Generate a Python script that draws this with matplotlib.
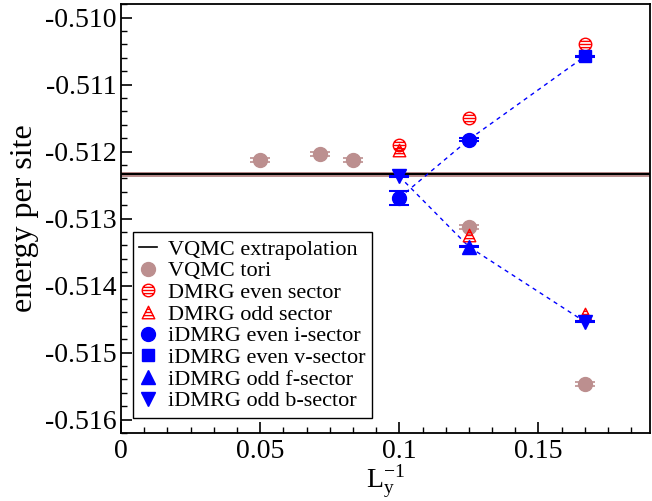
import numpy as np
import matplotlib
matplotlib.use('Agg')
import matplotlib.pyplot as plt
from matplotlib.path import Path
from matplotlib.lines import Line2D
from matplotlib.ticker import MultipleLocator, AutoMinorLocator, FormatStrFormatter

plt.rcParams['font.family'] = ['Liberation Serif', 'DejaVu Serif']
plt.rcParams['mathtext.fontset'] = 'stix'
plt.rcParams['axes.unicode_minus'] = False

# data
vqmc_extrap = -0.51234
vqmc_extrap_err = 0.00004

tori_x = [1/20, 1/14, 1/12, 1/8, 1/6]
tori_y = [-0.51213, -0.51203, -0.51213, -0.51312, -0.51547]
tori_err = [0.00003, 0.00003, 0.00003, 0.00003, 0.00003]

dmrg_even_x = [1/10, 1/8, 1/6]
dmrg_even_y = [-0.51190, -0.51150, -0.51040]
dmrg_odd_x = [1/10, 1/8, 1/6]
dmrg_odd_y = [-0.51197, -0.51325, -0.51442]

idmrg_i_x = [1/10, 1/8]
idmrg_i_y = [-0.51269, -0.51182]
idmrg_i_err = [0.0001, 0.00002]
idmrg_v_x = [1/6]
idmrg_v_y = [-0.51058]
idmrg_f_x = [1/8]
idmrg_f_y = [-0.51342]
idmrg_b_x = [1/10, 1/6]
idmrg_b_y = [-0.51237, -0.51454]

# dashed guides through the iDMRG points
even_line_x = [1/10, 1/8, 1/6]
even_line_y = [-0.51269, -0.51182, -0.51058]
odd_line_x = [1/10, 1/8, 1/6]
odd_line_y = [-0.51237, -0.51342, -0.51454]


def striped(base, is_circle):
    # open marker with horizontal stripes
    parts = [base]
    for yy in [-0.5, 0.0, 0.5]:
        if is_circle:
            xx = np.sqrt(1 - yy**2)
        else:
            xx = (1 - yy) / 2
        parts.append(Path([(-xx, yy), (xx, yy)], [Path.MOVETO, Path.LINETO]))
    return Path.make_compound_path(*parts)


circ_path = Path.unit_circle()
tri_path = Path([(0, 1), (-1, -1), (1, -1), (0, 1)],
                [Path.MOVETO, Path.LINETO, Path.LINETO, Path.CLOSEPOLY])
circ_striped = striped(circ_path, True)
tri_striped = striped(tri_path, False)

brown = '#bc8f8f'

fig = plt.figure(figsize=(6.52, 5.01), dpi=100)
ax = fig.add_axes([0.1856, 0.1357, 0.811, 0.856])

ax.axhspan(vqmc_extrap - vqmc_extrap_err, vqmc_extrap + vqmc_extrap_err,
           color=brown, lw=0, zorder=1)
ax.axhline(vqmc_extrap, color='black', lw=1.5, zorder=2)

ax.plot(even_line_x, even_line_y, ls=(0, (3, 3)), color='blue', lw=1, zorder=2)
ax.plot(odd_line_x, odd_line_y, ls=(0, (3, 3)), color='blue', lw=1, zorder=2)

ax.errorbar(tori_x, tori_y, yerr=tori_err, fmt='o', color=brown, ms=10,
            capsize=7, elinewidth=1, capthick=1.2, zorder=3)

ax.plot(dmrg_even_x, dmrg_even_y, ls='none', marker=circ_striped, ms=9,
        mfc='none', mec='red', mew=1, zorder=4)
ax.plot(dmrg_odd_x, dmrg_odd_y, ls='none', marker=tri_striped, ms=9,
        mfc='none', mec='red', mew=1, zorder=4)

ax.errorbar(idmrg_i_x, idmrg_i_y, yerr=idmrg_i_err, fmt='o', color='blue',
            ms=10, capsize=7, elinewidth=1, capthick=1.5, zorder=5)
ax.errorbar(idmrg_v_x, idmrg_v_y, yerr=[0.00001], fmt='s', color='blue',
            ms=9, capsize=7, capthick=1.5, zorder=5)
ax.errorbar(idmrg_f_x, idmrg_f_y, yerr=[0.00001], fmt='^', color='blue',
            ms=10, capsize=7, capthick=1.5, zorder=5)
ax.errorbar(idmrg_b_x, idmrg_b_y, yerr=[0.00001], fmt='v', color='blue',
            ms=10, capsize=7, capthick=1.5, zorder=5)

ax.set_xlim(0, 0.19)
ax.set_ylim(-0.5162, -0.5098)
ax.xaxis.set_major_locator(MultipleLocator(0.05))
ax.xaxis.set_minor_locator(AutoMinorLocator(6))
ax.yaxis.set_major_locator(MultipleLocator(0.001))
ax.yaxis.set_minor_locator(AutoMinorLocator(5))
ax.yaxis.set_major_formatter(FormatStrFormatter('%.3f'))
ax.set_xticks([0, 0.05, 0.1, 0.15])
ax.set_xticklabels(['0', '0.05', '0.1', '0.15'])
ax.tick_params(which='both', direction='in', top=False, right=False,
               labelsize=20)
ax.tick_params(axis='x', pad=4)
ax.tick_params(which='major', length=8, width=1.2)
ax.tick_params(which='minor', length=4, width=1)
for sp in ax.spines.values():
    sp.set_linewidth(1.3)

ax.set_ylabel('energy per site', fontsize=23, labelpad=4)
ax.set_xlabel(r'$\mathregular{L_y^{-1}}$', fontsize=20, labelpad=0)

handles = [
    Line2D([], [], color='black', lw=1.2),
    Line2D([], [], ls='none', marker='o', color=brown, ms=10),
    Line2D([], [], ls='none', marker=circ_striped, ms=9, mfc='none', mec='red'),
    Line2D([], [], ls='none', marker=tri_striped, ms=9, mfc='none', mec='red'),
    Line2D([], [], ls='none', marker='o', color='blue', ms=10),
    Line2D([], [], ls='none', marker='s', color='blue', ms=9),
    Line2D([], [], ls='none', marker='^', color='blue', ms=10),
    Line2D([], [], ls='none', marker='v', color='blue', ms=10),
]
labels = ['VQMC extrapolation', 'VQMC tori', 'DMRG even sector',
          'DMRG odd sector', 'iDMRG even i-sector', 'iDMRG even v-sector',
          'iDMRG odd f-sector', 'iDMRG odd b-sector']
leg = ax.legend(handles, labels, loc='lower left',
                bbox_to_anchor=(0.022, 0.035), borderaxespad=0,
                fontsize=16, labelspacing=0.05, handlelength=0.8,
                handletextpad=0.5, borderpad=0.3, fancybox=False,
                edgecolor='black', framealpha=1)
leg.get_frame().set_linewidth(1)

fig.savefig('out.png', dpi=100)
